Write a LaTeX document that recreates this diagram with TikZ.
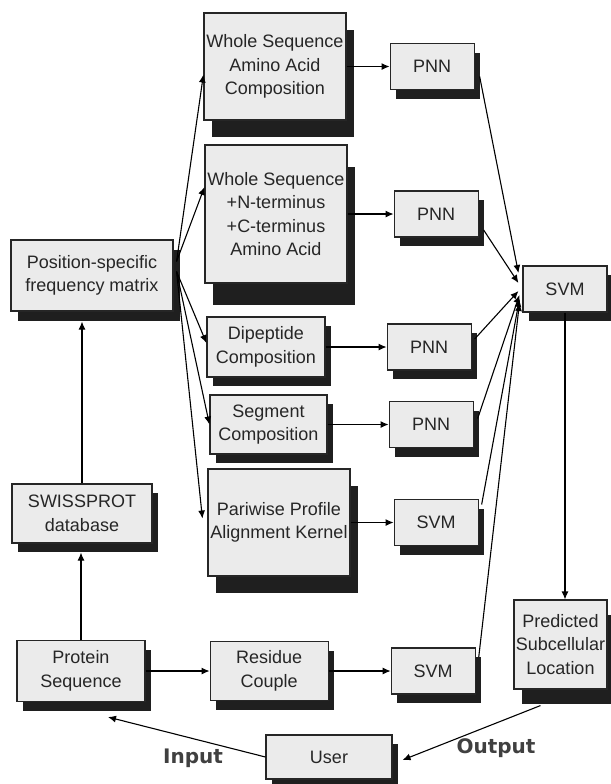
\documentclass[tikz,border=0pt]{standalone}
\usepackage{fontspec}
\setmainfont{Liberation Sans}
\newfontfamily\labelfont{DejaVu Sans}
\usetikzlibrary{arrows.meta, shadows, positioning}
\tikzset{> = { Latex[length = 4pt, width = 3.5pt] }}

\begin{document}
\begin{tikzpicture}[x = 0.5pt, y = -0.5pt, ->, line width = 0.55pt,
		box/.style 2 args = { draw = black!85, fill = black!8, text = black!85, align = center, inner sep = 0pt, font = \fontsize{9}{11.75}\selectfont, minimum width = #1, minimum height = #2 },
		backdrop/.style 2 args = {drop shadow={shadow xshift=#1,shadow yshift=-#2,fill=black!88,opacity=1}},
		low/.style = { backdrop = {3pt}{4.5pt} },
		tag/.style = { font = \labelfont\bfseries\fontsize{10}{12}\selectfont, text = black!75 }]
		\useasboundingbox (0, 0) rectangle (611, 784);

		% feature boxes and their classifiers
		\node [box = {71pt}{53.5pt}, backdrop = {4pt}{8.5pt}] (ws1) at (275, 66.5) {Whole Sequence\\Amino Acid\\Composition};
		\node [box = {42pt}{23pt}, low, right = 21.5pt of ws1]  (pnn1) {PNN};
		\node [box = {71pt}{69pt}, backdrop = {4pt}{11pt}]    (ws2) at (276, 214) {Whole Sequence\\+N-terminus\\+C-terminus\\Amino Acid};
		\node [box = {42pt}{23pt}, low, right = 23pt of ws2]    (pnn2) {PNN};
		\node [box = {59pt}{30pt}, low]                          (dip) at (266, 347) {Dipeptide\\Composition};
		\node [box = {42pt}{23pt}, low, right = 30.5pt of dip]  (pnn3) {PNN};
		\node [box = {58.5pt}{29.5pt}, low]                      (seg) at (268.5, 424.5) {Segment\\Composition};
		\node [box = {42pt}{23pt}, low, right = 30.5pt of seg]  (pnn4) {PNN};
		\node [box = {71pt}{53.5pt}, backdrop = {4pt}{8.5pt}]  (pair) at (279, 522.5) {Pariwise Profile\\Alignment Kernel};
		\node [box = {42pt}{23pt}, low, right = 21.5pt of pair] (svm2) {SVM};

		\node [box = {81pt}{35.5pt}, backdrop = {3.5pt}{5pt}]  (psfm) at (92, 275.5) {Position-specific\\frequency matrix};
		\node [box = {70pt}{29.5pt}, low]                        (swiss) at (82, 513.5) {SWISSPROT\\database};
		\node [box = {64pt}{30.5pt}, low]                        (prot) at (81, 671) {Protein\\Sequence};
		\node [box = {59pt}{29.5pt}, low, right = 32pt of prot] (res) {Residue\\Couple};
		\node [box = {42pt}{23pt}, low, right = 31pt of res]    (svm3) {SVM};

		\node [box = {42pt}{23pt}, low]                          (svm) at (565, 289) {SVM};
		\node [box = {46.5pt}{44.5pt}, backdrop = {4pt}{7.5pt}] (pred) at (560.5, 644.5) {Predicted\\Subcellular\\Location};
		\node [box = {63pt}{22pt}, low]                          (user) at (329, 757) {User};

		\node [tag, anchor = base] (input) at (193, 763) {Input};
		\node [tag, anchor = base] (output) at (496, 753) {Output};

		% fan out of the frequency matrix, the lines leave through its shadow
		\coordinate (fanhi) at ([xshift = 1.5pt, yshift = 7pt]psfm.east);
		\coordinate (fanlo) at ([xshift = 1.5pt, yshift = 2pt]psfm.east);
		\draw (fanhi) -- ([yshift = -4pt]ws1.west);
		\draw (fanhi) -- ([yshift = 13.5pt]ws2.west);
		\draw (fanlo) -- ([yshift = 2pt]dip.west);
		\draw (fanlo) -- (seg.west);
		\draw (fanlo) -- ([xshift = -2.5pt, yshift = 2pt]pair.west);

		\draw (ws1) -- (pnn1);
		\draw (ws2) -- (pnn2);
		\draw (dip) -- (pnn3);
		\draw (seg) -- (pnn4);
		\draw (pair) -- (svm2);
		\draw (prot) -- (res);
		\draw (res) -- (svm3);

		\draw ([xshift = 2.5pt, yshift = -5pt]pnn1.east) -- ([xshift = -2pt, yshift = 8pt]svm.west);
		\draw ([xshift = 2.5pt, yshift = -8pt]pnn2.east) -- ([xshift = -2pt, yshift = 3pt]svm.west);
		\draw ([xshift = 1.5pt, yshift = 4pt]pnn3.east)  -- ([xshift = -2pt, yshift = -1pt]svm.west);
		\draw ([xshift = 2pt, yshift = 3pt]pnn4.east)    -- ([xshift = -1.5pt, yshift = -3pt]svm.west);
		\draw ([xshift = 1.5pt, yshift = 9pt]svm2.east)  -- ([xshift = -1.5pt, yshift = -5pt]svm.west);
		\draw ([xshift = 1.5pt, yshift = 7pt]svm3.east)  -- ([xshift = -1.5pt, yshift = -7pt]svm.west);

		\coordinate (psfmfoot) at ([yshift = -5pt]psfm.south);
		\coordinate (swissfoot) at ([yshift = -4.5pt]swiss.south);
		\draw (swiss.north) -- (swiss.north |- psfmfoot);
		\draw (prot.north) -- (prot.north |- swissfoot);

		\draw (svm.south) -- (svm.south |- pred.north);
		\draw ([xshift = -10pt, yshift = -8pt]pred.south) -- ([xshift = 5pt, yshift = -1.5pt]user.east);
		\draw (user.west) -- ([xshift = 13.5pt, yshift = -7.5pt]prot.south);
	\end{tikzpicture}
\end{document}
